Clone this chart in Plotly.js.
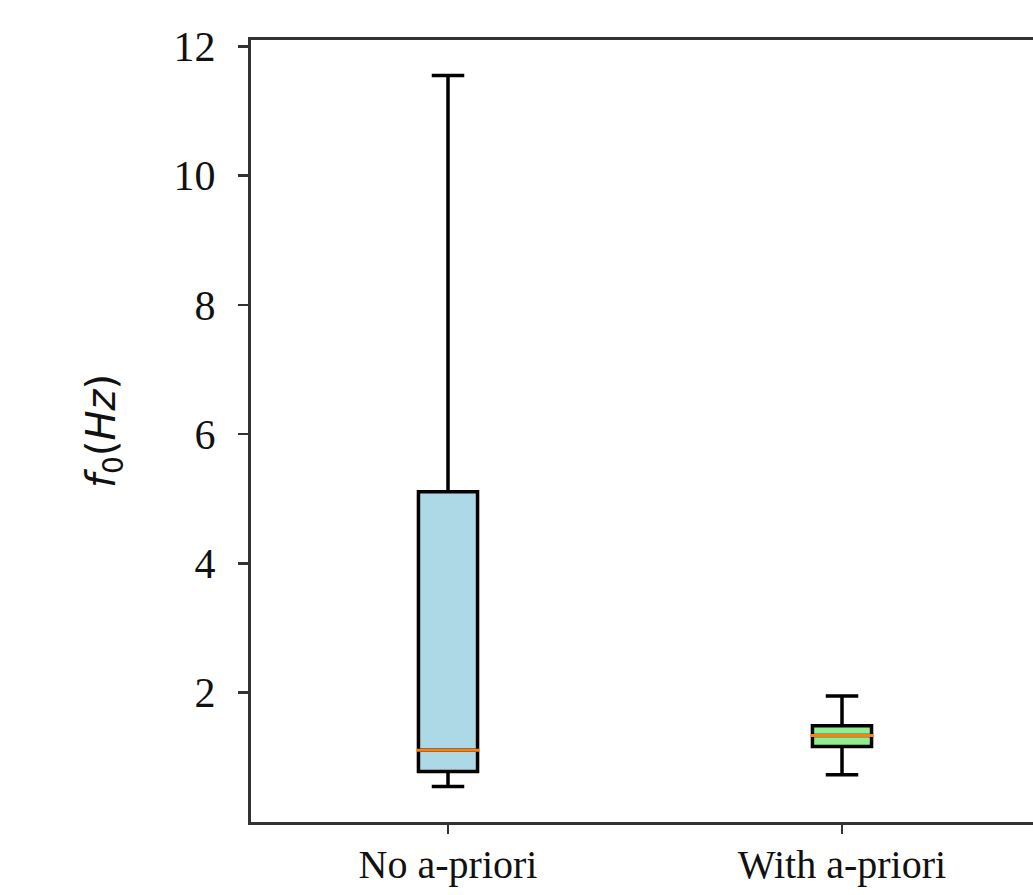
<!DOCTYPE html>
<html>
<head>
<meta charset="utf-8">
<script src="https://cdn.plot.ly/plotly-3.0.1.min.js"></script>
<style>
html, body { margin: 0; padding: 0; overflow: hidden; background: #fff; }
#chart { width: 1060px; height: 895px; }
</style>
</head>
<body>
<div id="chart"></div>
<script>
// Data
const categories = ["No a-priori", "With a-priori"];
const positions = [1, 2];
const lowerWhisker = [0.55, 0.73];
const q1 = [0.78, 1.17];
const median = [1.11, 1.34];
const q3 = [5.11, 1.49];
const upperWhisker = [11.55, 1.95];
const yTicks = [2, 4, 6, 8, 10, 12];

// Styles
const fillColors = ["#add8e6", "#90ee90"];
const boxWidth = 0.15;

const traces = [];
for (let i = 0; i < categories.length; i++) {
  traces.push({
    type: "box",
    name: categories[i],
    x: [positions[i]],
    q1: [q1[i]],
    median: [median[i]],
    q3: [q3[i]],
    lowerfence: [lowerWhisker[i]],
    upperfence: [upperWhisker[i]],
    width: boxWidth,
    whiskerwidth: 0.55,
    boxpoints: false,
    fillcolor: fillColors[i],
    line: { color: "#000000", width: 3.5 },
    hoverinfo: "skip",
    showlegend: false
  });
}
for (let i = 0; i < categories.length; i++) {
  const half = boxWidth / 2 * 1.06;
  traces.push({
    type: "scatter",
    mode: "lines",
    x: [positions[i] - half, positions[i] + half],
    y: [median[i], median[i]],
    line: { color: "#ff7f0e", width: 3 },
    hoverinfo: "skip",
    showlegend: false
  });
}

const serif = "Liberation Serif, Times New Roman, serif";

const layout = {
  width: 1060,
  height: 895,
  margin: { l: 251, r: 21, t: 40, b: 73 },
  paper_bgcolor: "#ffffff",
  plot_bgcolor: "#ffffff",
  showlegend: false,
  xaxis: {
    type: "linear",
    range: [0.5, 2.5],
    tickmode: "array",
    tickvals: positions,
    ticktext: categories,
    ticks: "outside",
    ticklen: 9,
    tickwidth: 2.5,
    tickcolor: "#333333",
    showline: true,
    linecolor: "#333333",
    linewidth: 3,
    mirror: true,
    showgrid: false,
    zeroline: false,
    tickfont: { family: serif, size: 40, color: "#111111" },
    ticklabelstandoff: -4
  },
  yaxis: {
    range: [0, 12.1],
    tickmode: "array",
    tickvals: yTicks,
    ticks: "outside",
    ticklen: 10,
    tickwidth: 2.5,
    tickcolor: "#333333",
    showline: true,
    linecolor: "#333333",
    linewidth: 3,
    mirror: true,
    showgrid: false,
    zeroline: false,
    tickfont: { family: serif, size: 42, color: "#111111" },
    ticklabelstandoff: 14,
    title: {
      text: "<i>f</i><sub>0</sub>(<i>Hz</i>)",
      font: { family: "DejaVu Sans, sans-serif", size: 40, color: "#111111" },
      standoff: 46
    }
  }
};

Plotly.newPlot("chart", traces, layout, { displayModeBar: false, staticPlot: true });
</script>
</body>
</html>
